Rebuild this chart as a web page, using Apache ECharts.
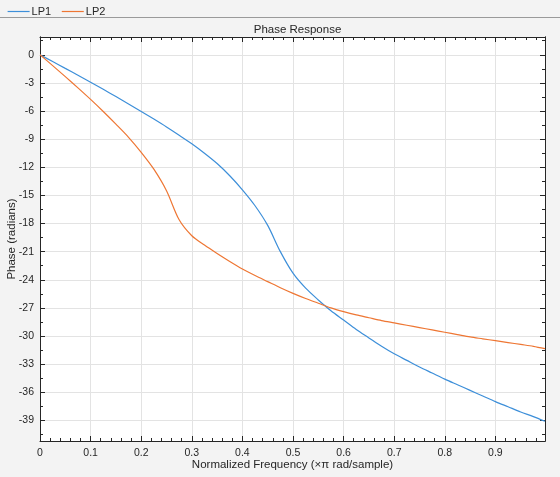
<!DOCTYPE html>
<html>
<head>
<meta charset="utf-8">
<script src="https://cdn.jsdelivr.net/npm/echarts@6/dist/echarts.min.js"></script>
<style>
html,body{margin:0;padding:0;background:#f3f3f3;}
#chart{width:560px;height:477px;}
</style>
</head>
<body>
<div id="chart"></div>
<script>
var freq = [0,0.025,0.05,0.075,0.1,0.125,0.15,0.175,0.2,0.225,0.25,0.275,0.3,0.325,0.35,0.375,0.4,0.425,0.45,0.475,0.5,0.525,0.55,0.575,0.6,0.625,0.65,0.675,0.7,0.725,0.75,0.775,0.8,0.825,0.85,0.875,0.9,0.925,0.95,0.975,0.998];
var phaseLP1 = [0,-0.72,-1.45,-2.18,-2.92,-3.68,-4.45,-5.24,-6.04,-6.86,-7.7,-8.58,-9.49,-10.5,-11.6,-12.9,-14.4,-16.1,-18.2,-21.0,-23.3,-24.9,-26.15,-27.3,-28.3,-29.3,-30.2,-31.1,-31.9,-32.6,-33.3,-33.95,-34.6,-35.2,-35.8,-36.4,-37.0,-37.55,-38.1,-38.6,-39.1];
var phaseLP2 = [0,-1.15,-2.33,-3.53,-4.76,-6.05,-7.4,-8.8,-10.4,-12.2,-14.5,-17.6,-19.3,-20.3,-21.2,-22.05,-22.85,-23.55,-24.2,-24.85,-25.45,-26.0,-26.5,-27.0,-27.4,-27.75,-28.05,-28.35,-28.6,-28.85,-29.1,-29.35,-29.6,-29.85,-30.1,-30.3,-30.5,-30.7,-30.9,-31.1,-31.35];
var yMajorTicks = [0,-3,-6,-9,-12,-15,-18,-21,-24,-27,-30,-33,-36,-39];
var seriesNames = ['LP1','LP2'];
var colors = ['#3d8fd9','#ee7633'];

function pairs(xs, ys){ return xs.map(function(x,i){ return [x, ys[i]]; }); }
var yMinorTicks = [];
for (var v = 1.5; v >= -40.5; v -= 1.5) yMinorTicks.push(Math.round(v*10)/10);

var X_MIN = 0, X_MAX = 0.998, Y_MIN = -41.2, Y_MAX = 1.9;
var axisColor = '#262626';
var FONT = 'Liberation Sans, Arial, sans-serif';
var labelStyle = {color: '#262626', fontSize: 10.5, fontFamily: FONT};

function yAxisDef(pos, major, withLabels){
  return {
    type: 'value', position: pos, min: Y_MIN, max: Y_MAX,
    axisLine: {show: true, onZero: false, lineStyle: {color: axisColor, width: 1}},
    axisTick: {show: true, inside: true, length: major ? 5 : 3, customValues: major ? yMajorTicks : yMinorTicks, lineStyle: {color: axisColor}},
    axisLabel: withLabels ? Object.assign({show: true, customValues: yMajorTicks, margin: 6}, labelStyle) : {show: false},
    splitLine: withLabels ? {show: true, customValues: yMajorTicks, lineStyle: {color: '#e3e3e3', width: 1}} : {show: false},
    minorTick: {show: false}
  };
}
function xAxisDef(pos, withLabels){
  return {
    type: 'value', position: pos, min: X_MIN, max: X_MAX, interval: 0.1,
    axisLine: {show: true, onZero: false, lineStyle: {color: axisColor, width: 1}},
    axisTick: {show: true, inside: true, length: 5, lineStyle: {color: axisColor}},
    minorTick: {show: true, splitNumber: 5, length: 3, lineStyle: {color: axisColor}},
    axisLabel: withLabels ? Object.assign({show: true, margin: 7, showMaxLabel: false,
      formatter: function(v){ if (v > 0.95) return ''; return v === 0 ? '0' : (Math.round(v*10)/10).toString(); }}, labelStyle) : {show: false},
    splitLine: withLabels ? {show: true, lineStyle: {color: '#e3e3e3', width: 1}} : {show: false}
  };
}

var chart = echarts.init(document.getElementById('chart'), null, {renderer: 'canvas'});
chart.setOption({
  backgroundColor: '#f3f3f3',
  animation: false,
  color: colors,
  title: {
    text: 'Phase Response', left: 292.5, top: 19, textAlign: 'center',
    textStyle: {fontSize: 11.5, fontWeight: 'normal', color: '#262626', fontFamily: FONT}
  },
  legend: {
    left: 2, top: 1, itemWidth: 22, itemHeight: 10, itemGap: 10,
    textStyle: {fontSize: 11, color: '#262626', fontFamily: FONT, padding: [0,0,0,-3]},
    data: seriesNames.map(function(n, i){
      return {name: n, lineStyle: {color: colors[i], width: 1.2, opacity: 1}, itemStyle: {color: 'transparent', borderWidth: 0, opacity: 0}};
    })
  },
  grid: {left: 40, right: 15, top: 37, bottom: 36, show: true, backgroundColor: '#ffffff', borderWidth: 0, containLabel: false},
  xAxis: [xAxisDef('bottom', true), xAxisDef('top', false)],
  yAxis: [yAxisDef('left', true, true), yAxisDef('left', false, false), yAxisDef('right', true, false), yAxisDef('right', false, false)],
  graphic: [
    {type: 'line', shape: {x1: 0, y1: 17.5, x2: 560, y2: 17.5}, style: {stroke: '#9a9a9a', lineWidth: 1}},
    {type: 'text', x: 292.5, y: 465, style: {text: 'Normalized Frequency (\u00d7\u03c0 rad/sample)', fill: '#262626', fontSize: 11.5, fontFamily: FONT, align: 'center', verticalAlign: 'middle'}},
    {type: 'text', x: 12, y: 239, rotation: Math.PI/2, style: {text: 'Phase (radians)', fill: '#262626', fontSize: 11.5, fontFamily: FONT, align: 'center', verticalAlign: 'middle'}}
  ],
  series: [
    {name: seriesNames[0], type: 'line', xAxisIndex: 0, yAxisIndex: 0, data: pairs(freq, phaseLP1), showSymbol: false, symbol: 'none', smooth: 0.3, itemStyle: {color: colors[0]}, lineStyle: {width: 1.2, color: colors[0]}},
    {name: seriesNames[1], type: 'line', xAxisIndex: 0, yAxisIndex: 0, data: pairs(freq, phaseLP2), showSymbol: false, symbol: 'none', smooth: 0.3, itemStyle: {color: colors[1]}, lineStyle: {width: 1.2, color: colors[1]}}
  ]
});
</script>
</body>
</html>
